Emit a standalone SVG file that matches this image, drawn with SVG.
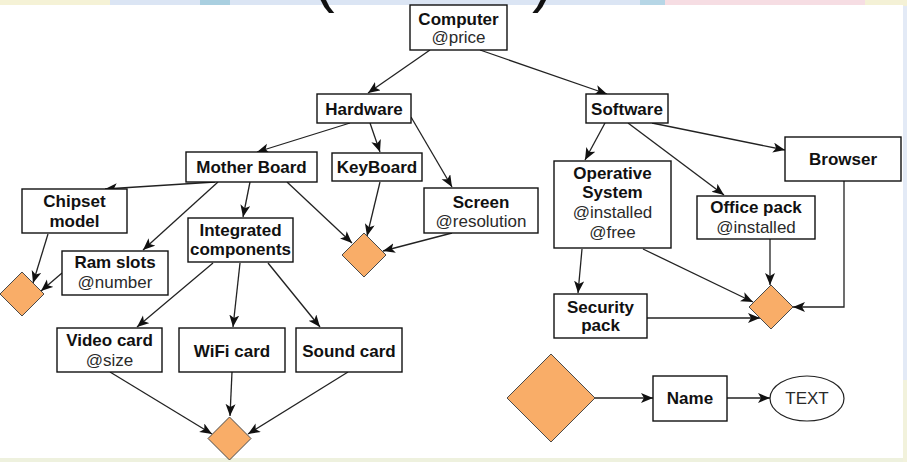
<svg xmlns="http://www.w3.org/2000/svg" width="907" height="462" viewBox="0 0 907 462">
<style>
.box{fill:#fff;stroke:#111;stroke-width:1.4}
.dia{fill:#F9AD68;stroke:#4a4a4a;stroke-width:1}
.t{font-family:"Liberation Sans",Arial,Helvetica,sans-serif;font-size:17px;font-weight:bold;fill:#111;text-anchor:middle}
.a{font-family:"Liberation Sans",Arial,Helvetica,sans-serif;font-size:17px;fill:#2a2a2a;text-anchor:middle}
.c{fill:none;stroke:#222;stroke-width:1.3}
.p{font-family:"Liberation Sans",Arial,sans-serif;font-size:62px;fill:#111}
</style>
<defs>
<marker id="ah" markerUnits="userSpaceOnUse" markerWidth="13" markerHeight="11" refX="12" refY="5" orient="auto">
<path d="M0,0 L12,5 L0,10 L3,5 Z" fill="#111"/>
</marker>
</defs>
<g id="background">
<rect x="0" y="0" width="907" height="462" fill="#e3eaf6"/>
<rect x="0" y="0" width="110" height="6" fill="#f5f2d6"/>
<rect x="110" y="0" width="540" height="6" fill="#dbe5f4"/>
<rect x="200" y="0" width="30" height="6" fill="#a9cfe0"/>
<rect x="640" y="0" width="25" height="6" fill="#b6d6e6"/>
<rect x="665" y="0" width="200" height="6" fill="#f6dde3"/>
<rect x="865" y="0" width="42" height="6" fill="#f4f1d6"/>
<rect x="0" y="457" width="907" height="5" fill="#eef1de"/>
<rect x="903" y="380" width="4" height="82" fill="#f2f2dc"/>
<rect x="0" y="5" width="903" height="453" fill="#fff"/>
<text class="p" x="314" y="0">(</text>
<text class="p" x="532" y="0">)</text>
</g>
<g id="connectors">
<line class="c" x1="430" y1="50" x2="368" y2="93" marker-end="url(#ah)"/>
<line class="c" x1="480" y1="50" x2="607" y2="94" marker-end="url(#ah)"/>
<line class="c" x1="350" y1="123" x2="257" y2="152" marker-end="url(#ah)"/>
<line class="c" x1="370" y1="123" x2="380" y2="152" marker-end="url(#ah)"/>
<line class="c" x1="411" y1="117" x2="452" y2="187" marker-end="url(#ah)"/>
<line class="c" x1="215" y1="182" x2="105" y2="189" marker-end="url(#ah)"/>
<line class="c" x1="218" y1="182" x2="143" y2="250" marker-end="url(#ah)"/>
<line class="c" x1="250" y1="182" x2="243" y2="217" marker-end="url(#ah)"/>
<line class="c" x1="287" y1="182" x2="352" y2="243" marker-end="url(#ah)"/>
<line class="c" x1="380" y1="182" x2="367" y2="236" marker-end="url(#ah)"/>
<line class="c" x1="452" y1="233" x2="383" y2="251" marker-end="url(#ah)"/>
<line class="c" x1="48" y1="234" x2="33" y2="283" marker-end="url(#ah)"/>
<line class="c" x1="62" y1="273" x2="41" y2="291" marker-end="url(#ah)"/>
<line class="c" x1="213" y1="263" x2="137" y2="327" marker-end="url(#ah)"/>
<line class="c" x1="240" y1="263" x2="233" y2="327" marker-end="url(#ah)"/>
<line class="c" x1="268" y1="263" x2="320" y2="327" marker-end="url(#ah)"/>
<line class="c" x1="110" y1="372" x2="212" y2="434" marker-end="url(#ah)"/>
<line class="c" x1="232" y1="372" x2="230" y2="416" marker-end="url(#ah)"/>
<line class="c" x1="348" y1="372" x2="248" y2="434" marker-end="url(#ah)"/>
<line class="c" x1="605" y1="123" x2="585" y2="160" marker-end="url(#ah)"/>
<line class="c" x1="628" y1="123" x2="724" y2="195" marker-end="url(#ah)"/>
<line class="c" x1="652" y1="123" x2="785" y2="150" marker-end="url(#ah)"/>
<line class="c" x1="582" y1="249" x2="578" y2="293" marker-end="url(#ah)"/>
<line class="c" x1="643" y1="249" x2="753" y2="302" marker-end="url(#ah)"/>
<line class="c" x1="770" y1="239" x2="770" y2="285" marker-end="url(#ah)"/>
<line class="c" x1="647" y1="318" x2="760" y2="318" marker-end="url(#ah)"/>
<polyline class="c" points="844,181 844,307 793,307" marker-end="url(#ah)"/>
<line class="c" x1="595" y1="398" x2="653" y2="398" marker-end="url(#ah)"/>
<line class="c" x1="727" y1="398" x2="770" y2="398" marker-end="url(#ah)"/>
</g>
<g id="computer"><rect class="box" x="410" y="5" width="97" height="45"/><text class="t" x="458.5" y="25">Computer</text><text class="a" x="458.5" y="43">@price</text></g>
<g id="hardware"><rect class="box" x="317" y="94" width="94" height="29"/><text class="t" x="364" y="115">Hardware</text></g>
<g id="software"><rect class="box" x="586" y="94" width="82" height="29"/><text class="t" x="627" y="115">Software</text></g>
<g id="motherboard"><rect class="box" x="186" y="152" width="131" height="30"/><text class="t" x="251.5" y="173">Mother Board</text></g>
<g id="keyboard"><rect class="box" x="332" y="153" width="90" height="28"/><text class="t" x="377" y="173">KeyBoard</text></g>
<g id="screen"><rect class="box" x="424" y="188" width="114" height="45"/><text class="t" x="481" y="208">Screen</text><text class="a" x="481" y="227">@resolution</text></g>
<g id="chipset"><rect class="box" x="22" y="189" width="105" height="44"/><text class="t" x="74.5" y="207">Chipset</text><text class="t" x="74.5" y="227">model</text></g>
<g id="integrated"><rect class="box" x="188" y="218" width="105" height="44"/><text class="t" x="240.5" y="236">Integrated</text><text class="t" x="240.5" y="255">components</text></g>
<g id="ramslots"><rect class="box" x="62" y="251" width="106" height="44"/><text class="t" x="115" y="268">Ram slots</text><text class="a" x="115" y="288">@number</text></g>
<g id="videocard"><rect class="box" x="57" y="328" width="105" height="44"/><text class="t" x="109.5" y="346">Video card</text><text class="a" x="109.5" y="366">@size</text></g>
<g id="wificard"><rect class="box" x="179" y="328" width="106" height="44"/><text class="t" x="232" y="357">WiFi card</text></g>
<g id="soundcard"><rect class="box" x="296" y="328" width="106" height="44"/><text class="t" x="349" y="357">Sound card</text></g>
<g id="browser"><rect class="box" x="785" y="137" width="116" height="44"/><text class="t" x="843" y="165">Browser</text></g>
<g id="os"><rect class="box" x="554" y="161" width="117" height="87"/><text class="t" x="612.5" y="179">Operative</text><text class="t" x="612.5" y="198">System</text><text class="a" x="612.5" y="218">@installed</text><text class="a" x="612.5" y="238">@free</text></g>
<g id="officepack"><rect class="box" x="697" y="196" width="118" height="43"/><text class="t" x="756" y="213">Office pack</text><text class="a" x="756" y="233">@installed</text></g>
<g id="securitypack"><rect class="box" x="554" y="294" width="93" height="44"/><text class="t" x="600.5" y="313">Security</text><text class="t" x="600.5" y="331">pack</text></g>
<g id="diamond-left"><polygon class="dia" points="22,272 44,294 22,316 0,294"/></g>
<g id="diamond-hardware"><polygon class="dia" points="364,233 386,255 364,277 342,255"/></g>
<g id="diamond-bottom"><polygon class="dia" points="229.5,417 251,438.5 229.5,460 208,438.5"/></g>
<g id="diamond-software"><polygon class="dia" points="771,285 793,307 771,329 749,307"/></g>
<g id="legend-diamond"><polygon class="dia" points="551,354 595,398 551,442 507,398"/></g>
<g id="legend-name"><rect class="box" x="653" y="376" width="74" height="45"/><text class="t" x="690" y="404">Name</text></g>
<g id="legend-text"><ellipse cx="807" cy="398.5" rx="37" ry="22.5" fill="#fff" stroke="#222" stroke-width="1.2"/><text class="a" x="807" y="404" fill="#111">TEXT</text></g>
</svg>
